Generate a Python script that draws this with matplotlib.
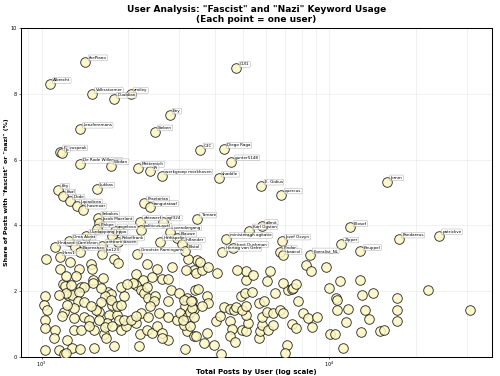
import matplotlib
matplotlib.use('Agg')
import matplotlib.pyplot as plt
import numpy as np

# Labelled users (share >= ~3 %)
label_names = [
    'thePiano', 'Albrecht', 'Volksstormer', 'zmiley', 'Duuldian', 'CUI1', 'Eny',
    'Lenzferemans', 'Sieben', 'Bewuspeak', 'Jo', 'De Rode Willemina', 'Wodan',
    'Metternich', 'Pt', 'werkgroep morkhoven', 'C3C', 'Diego Raga', 'gunter5148',
    'shaddle', 'E. Gidius', 'quercus', 'Jomm', 'Key', 'Kaal', 'Dode', 'Jupiadicea',
    'Inosmoar', 'Lukkas', 'Praetorian', 'tangutstaaf', 'Sebakes', 'Jacob Maerlant',
    'dhiewerf', 'ogf324', 'Tamare', 'politicus.avel', 'Pinkpe', 'angelova',
    'uvendergang', 'Blauwe', 'Harkspelje', 'Inflander', 'Grootste Ramingans',
    'Bistol', 'Uurdappimg', 'Jeppo', 'Oma Akrat', 'Hindaert', 'Cameleon',
    'antiram Baven', 'Rebelfrank', 'Bapreanzo', 'Jan123', 'Hans1', 'allmit',
    'Karl Ogston', 'ministeragh agitatie', 'Jozef Oxzyn', 'Joost Dushman',
    'Hertog van Gelre', 'Pindar', 'Isaacol', 'liberalist_NL', 'Zipper',
    'Knuppel', 'Filosof', 'Pandareus', 'patrickve',
]
label_posts = [
    1421, 1066, 1497, 2037, 1783, 4754, 2783,
    1358, 2468, 1157, 1180, 1355, 1736,
    2167, 2390, 2610, 3565, 4296, 4568,
    4125, 5806, 6813, 15860, 1139, 1186, 1254, 1330,
    1391, 1552, 2266, 2390, 1574, 1585,
    2200, 2652, 3473, 2207, 1561, 1795,
    2790, 2956, 2575, 3087, 2149,
    3162, 1431, 1750, 1250, 1110, 1302,
    1628, 1839, 1355, 1618, 1155, 5838,
    5275, 4387, 6850, 4630,
    4238, 6721, 6910, 8543, 10980,
    12816, 11831, 17400, 23970,
]
label_share = [
    8.98, 8.29, 7.99, 7.99, 7.84, 8.78, 7.36,
    6.93, 6.85, 6.24, 6.19, 5.86, 5.82,
    5.74, 5.64, 5.51, 6.30, 6.32, 5.94,
    5.44, 5.20, 4.93, 5.33, 5.08, 4.90, 4.75, 4.60,
    4.47, 5.11, 4.69, 4.55, 4.22, 4.08,
    4.11, 4.11, 4.20, 3.87, 3.90, 3.84,
    3.81, 3.62, 3.51, 3.44, 3.13,
    3.23, 3.68, 3.68, 3.53, 3.35, 3.35,
    3.38, 3.50, 3.20, 3.14, 3.05, 3.97,
    3.84, 3.58, 3.53, 3.30,
    3.19, 3.19, 3.09, 3.11, 3.44,
    3.21, 3.94, 3.59, 3.69,
]

# Remaining users (not labelled)
other_posts = [
    1038, 1254, 1783, 1840, 2328, 3473, 1157, 1347, 1491, 1500,
    2136, 2524, 2844, 2610, 2750, 2420, 2247, 3381, 1638, 1510,
    1506, 1189, 1202, 1366, 1403, 1032, 1238, 1271, 1212, 1347,
    1704, 1736, 1658, 1932, 2136, 2082, 2207, 2266, 2339, 2472,
    2452, 2750, 3210, 3340, 3425, 1336, 1403, 1603, 1760, 2390,
    3162, 3381, 1019, 1047, 1195, 1180, 1295, 1403, 1582, 1459,
    1540, 1713, 1832, 1857, 1691, 1582, 1024, 1024, 1112, 1103,
    1228, 1278, 1295, 1374, 1518, 1459, 1645, 1668, 1655, 1881,
    1958, 2121, 2194, 2328, 2420, 2524, 2623, 2740, 2623, 3210,
    3381, 3116, 3291, 1027, 1148, 1195, 1358, 1518, 1783, 2176,
    3162, 1932, 2207, 2037, 2121, 2346, 2553, 2760, 2960, 3020,
    3210, 3291, 1760, 1736, 1822, 1881, 1488, 1295, 1228, 1148,
    1261, 1312, 1212, 1612, 1881, 1985, 2328, 2805, 2993, 3116,
    1212,
    3230, 3186, 3453, 3600, 3565, 3800, 4082, 3483, 3755, 3800,
    3620, 3330, 3310, 3381, 3097, 3453, 3755, 3670, 3960, 4020,
    4183, 4296, 4505, 4647, 4754, 4531, 4590, 4505, 4716, 4950,
    5150, 5220, 5150, 4950, 5125, 4930, 5109, 5400, 5125, 5150,
    5420, 4775, 4212, 5715, 5760, 5838, 5838, 5715, 5920, 6060,
    6240, 6090, 6140, 6380, 6494, 6350, 6759, 6880, 7130, 7035,
    7410, 7670, 7200, 7410, 7480, 7670, 6880, 7800, 8090, 8440,
    8730, 9060, 8280, 8660, 9720, 10000, 10500, 10640, 10640, 10080,
    10490, 11170, 11600, 11440, 10920, 12720, 12960, 13340, 13700, 12820,
    14200, 15040, 15530, 17150, 17150, 17150, 21940, 30880,
]
other_share = [
    2.99, 2.89, 2.98, 2.85, 2.82, 2.95, 2.68, 2.68, 2.83, 2.67,
    2.53, 2.67, 2.75, 2.37, 2.37, 2.43, 2.33, 2.65, 2.40, 2.35,
    2.25, 2.23, 2.17, 2.13, 2.14, 1.86, 1.89, 1.87, 1.94, 1.99,
    1.99, 1.92, 1.84, 1.84, 2.20, 2.25, 2.04, 1.94, 1.79, 1.84,
    1.69, 1.69, 1.79, 1.69, 2.04, 1.69, 1.66, 1.66, 1.59, 1.54,
    1.54, 1.47, 1.59, 1.44, 1.38, 1.25, 1.18, 1.21, 1.38, 1.13,
    1.44, 1.28, 1.28, 1.11, 1.03, 1.13, 1.11, 0.88, 0.83, 0.58,
    0.53, 0.27, 0.83, 0.83, 0.83, 0.93, 0.71, 0.58, 0.91, 0.83,
    0.93, 1.03, 0.71, 0.83, 0.73, 0.93, 0.73, 0.53, 0.58, 0.78,
    0.63, 0.98, 0.93, 0.22, 0.20, 0.10, 0.24, 0.27, 0.32, 0.34,
    0.24, 1.13, 1.34, 1.13, 1.25, 1.23, 1.34, 1.21, 1.13, 1.34,
    1.23, 1.38, 0.93, 1.74, 1.54, 1.59, 1.54, 1.49, 1.59, 1.89,
    2.20, 2.45, 2.45, 2.10, 2.14, 2.23, 2.14, 2.04, 1.94, 1.74,
    0.12,
    2.98, 2.65, 2.55, 2.65, 2.90, 2.75, 2.55, 2.06, 1.86, 1.64,
    1.56, 1.49, 1.71, 1.23, 1.13, 0.65, 0.73, 0.44, 0.37, 1.08,
    1.25, 1.52, 1.46, 1.44, 1.52, 1.08, 0.85, 0.63, 0.47, 0.83,
    0.78, 1.03, 1.28, 1.44, 1.56, 1.84, 1.94, 1.99, 2.35, 2.60,
    2.50, 2.65, 0.10, 0.58, 0.78, 0.98, 1.21, 1.64, 1.69, 2.30,
    2.60, 1.38, 0.83, 0.98, 1.94, 1.34, 1.44, 1.35, 0.37, 0.12,
    1.01, 0.88, 2.04, 2.06, 2.10, 2.22, 2.25, 1.69, 1.35, 1.18,
    0.91, 1.23, 2.80, 2.60, 2.73, 2.10, 1.79, 1.72, 1.44, 0.71,
    0.71, 0.27, 1.46, 1.05, 2.30, 2.35, 1.89, 1.42, 1.15, 0.75,
    1.94, 0.78, 0.83, 1.79, 1.42, 1.08, 2.04, 1.42,
]

posts = np.array(other_posts + label_posts)
share = np.array(other_share + label_share)

fig = plt.figure(figsize=(10, 7.52), dpi=50)
ax = fig.add_axes([0.041, 0.0505, 0.943, 0.875])

ax.scatter(posts, share, s=190, c='#fdf7c3', edgecolors='black',
           linewidths=1.2, alpha=0.85, zorder=3)

for name, x, y in zip(label_names, label_posts, label_share):
    ax.annotate(name, (x, y), xytext=(5, 4), textcoords='offset points',
                fontsize=6, zorder=4,
                bbox=dict(boxstyle='round,pad=0.2', fc='white', ec='gray',
                          lw=0.6, alpha=0.75))

ax.set_xscale('log')
ax.set_xlim(845, 36700)
ax.set_ylim(0, 10)
ax.grid(True, which='both', alpha=0.3)
ax.tick_params(labelsize=7, pad=2)
ax.tick_params(axis='x', pad=1)
ax.set_xlabel('Total Posts by User (log scale)', fontsize=10, fontweight='bold',
              labelpad=0)
ax.set_ylabel('Share of Posts with "fascist" or "nazi" (%)', fontsize=9,
              fontweight='bold', labelpad=2)
ax.set_title('User Analysis: "Fascist" and "Nazi" Keyword Usage\n(Each point = one user)',
             fontsize=13, fontweight='bold', pad=8)
for sp in ax.spines.values():
    sp.set_linewidth(1.5)

fig.savefig('out.png', dpi=50)
